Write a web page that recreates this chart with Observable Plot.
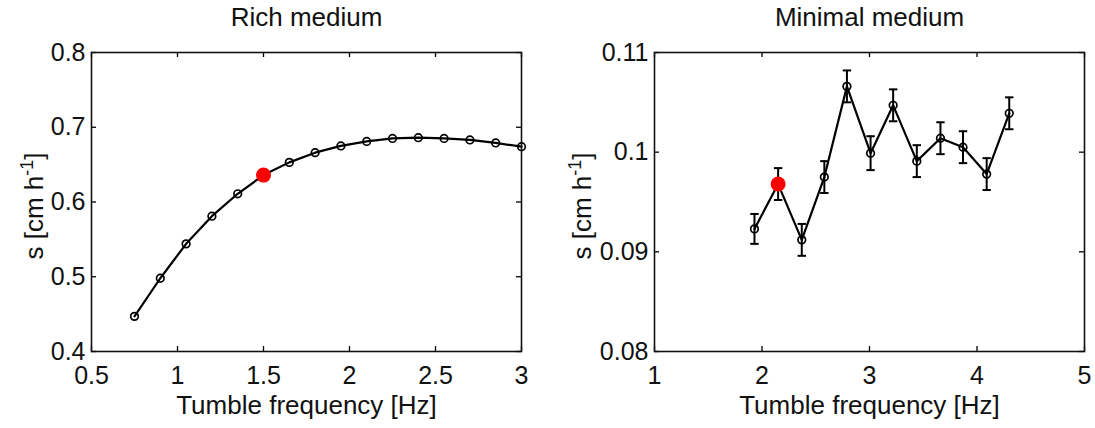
<!DOCTYPE html>
<html><head><meta charset="utf-8">
<script src="https://cdn.jsdelivr.net/npm/d3@7"></script>
<script src="https://cdn.jsdelivr.net/npm/@observablehq/plot@0.6"></script>
<style>
body{margin:0;background:#fff;}
#wrap{position:relative;width:1095px;height:428px;overflow:hidden;background:#fff;}
#wrap svg{position:absolute;top:0;overflow:visible;}
</style></head><body><div id="wrap"></div>
<script>
// ---- Rich medium ----
const richFreq = [0.75, 0.9, 1.05, 1.2, 1.35, 1.5, 1.65, 1.8, 1.95, 2.1, 2.25, 2.4, 2.55, 2.7, 2.85, 3.0];
const richS    = [0.447, 0.498, 0.544, 0.581, 0.611, 0.636, 0.653, 0.666, 0.675, 0.681, 0.685, 0.686, 0.685, 0.683, 0.679, 0.674];
const richHighlightIndex = 5;
const richXTicks = [0.5, 1, 1.5, 2, 2.5, 3];
const richYTicks = [0.4, 0.5, 0.6, 0.7, 0.8];

// ---- Minimal medium ----
const minFreq = [1.93, 2.15, 2.37, 2.58, 2.79, 3.01, 3.22, 3.44, 3.66, 3.87, 4.09, 4.30];
const minS    = [0.0923, 0.0968, 0.0912, 0.0975, 0.1066, 0.0999, 0.1047, 0.0991, 0.1014, 0.1005, 0.0978, 0.1039];
const minErr  = [0.0015, 0.0016, 0.0016, 0.0016, 0.0016, 0.0017, 0.0016, 0.0016, 0.0016, 0.0016, 0.0016, 0.0016];
const minHighlightIndex = 1;
const minXTicks = [1, 2, 3, 4, 5];
const minYTicks = [0.08, 0.09, 0.1, 0.11];

const titles = ["Rich medium", "Minimal medium"];
const xLabel = "Tumble frequency [Hz]";
const yLabel = "s [cm h-1]";

const FONT = "'Liberation Sans', Arial, Helvetica, sans-serif";
const H = 428, MT = 52, MB = 77;

const capSymbol = {
  draw(context, size) {
    const r = Math.sqrt(size / Math.PI);
    context.moveTo(-r, 0);
    context.lineTo(r, 0);
  }
};

function panel({freq, s, err, hi, xDomain, yDomain, xTicks, yTicks, title, width, marginLeft, marginRight, yLabelDx}) {
  const data = freq.map((f, i) => ({f, s: s[i], e: err ? err[i] : 0, hi: i === hi}));
  const frameH = H - MT - MB;
  const frameW = width - marginLeft - marginRight;
  const fmt = d3.format("~g");
  const marks = [
    Plot.tickX(xTicks, {x: d => d, insetTop: frameH - 5, stroke: "#000", strokeWidth: 1.3}),
    Plot.tickX(xTicks, {x: d => d, insetBottom: frameH - 5, stroke: "#000", strokeWidth: 1.3}),
    Plot.tickY(yTicks, {y: d => d, insetRight: frameW - 5, stroke: "#000", strokeWidth: 1.3}),
    Plot.tickY(yTicks, {y: d => d, insetLeft: frameW - 5, stroke: "#000", strokeWidth: 1.3}),
    Plot.axisX({ticks: xTicks, tickSize: 0, tickPadding: 15, tickFormat: fmt, label: null, fontSize: 25, fill: "#111"}),
    Plot.axisY({ticks: yTicks, tickSize: 0, tickPadding: 6, tickFormat: fmt, label: null, fontSize: 25, fill: "#111"}),
  ];
  if (err) {
    marks.push(
      Plot.ruleX(data, {x: "f", y1: d => d.s - d.e, y2: d => d.s + d.e, stroke: "#000", strokeWidth: 2}),
      Plot.dot(data, {x: "f", y: d => d.s + d.e, symbol: capSymbol, r: 4.2, stroke: "#000", fill: "none", strokeWidth: 2}),
      Plot.dot(data, {x: "f", y: d => d.s - d.e, symbol: capSymbol, r: 4.2, stroke: "#000", fill: "none", strokeWidth: 2})
    );
  }
  marks.push(
    Plot.line(data, {x: "f", y: "s", stroke: "#000", strokeWidth: 2.2}),
    Plot.dot(data.filter(d => !d.hi), {x: "f", y: "s", r: 3.8, stroke: "#000", strokeWidth: 1.7, fill: "none"}),
    Plot.dot(data.filter(d => d.hi), {x: "f", y: "s", r: 7.5, fill: "#ff0000", stroke: "none"}),
    Plot.frame({stroke: "#111", strokeWidth: 1.6}),
    Plot.text([title], {frameAnchor: "top", dy: -27, lineAnchor: "bottom", fontSize: 26, fill: "#111"}),
    Plot.text([xLabel], {frameAnchor: "bottom", dy: 62, lineAnchor: "bottom", fontSize: 26, fill: "#111"}),
    Plot.text([yLabel], {frameAnchor: "left", dx: yLabelDx, dy: 4, rotate: -90, textAnchor: "middle", lineAnchor: "bottom", fontSize: 26, fill: "#111"})
  );
  const svg = Plot.plot({
    width, height: H,
    marginLeft, marginRight, marginTop: MT, marginBottom: MB,
    x: {domain: xDomain},
    y: {domain: yDomain},
    style: {fontFamily: FONT, fontSize: "25px", background: "#fff", color: "#111"},
    marks
  });
  // superscript in y label
  d3.select(svg).selectAll("text").filter(function() { return this.textContent === yLabel; }).each(function() {
    const t = d3.select(this);
    t.text(null);
    t.append("tspan").text("s [cm h");
    t.append("tspan").attr("dy", -10).attr("font-size", 18).text("-1");
    t.append("tspan").attr("dy", 10).text("]");
  });
  return svg;
}

const wrap = document.getElementById("wrap");
const left = panel({
  freq: richFreq, s: richS, err: null, hi: richHighlightIndex,
  xDomain: [0.5, 3], yDomain: [0.4, 0.8], xTicks: richXTicks, yTicks: richYTicks,
  title: titles[0], width: 547, marginLeft: 91, marginRight: 26, yLabelDx: -49
});
left.style.left = "0px";
wrap.appendChild(left);

const right = panel({
  freq: minFreq, s: minS, err: minErr, hi: minHighlightIndex,
  xDomain: [1, 5], yDomain: [0.08, 0.11], xTicks: minXTicks, yTicks: minYTicks,
  title: titles[1], width: 547, marginLeft: 106, marginRight: 11, yLabelDx: -64
});
right.style.left = "548px";
wrap.appendChild(right);
</script>
</body></html>
